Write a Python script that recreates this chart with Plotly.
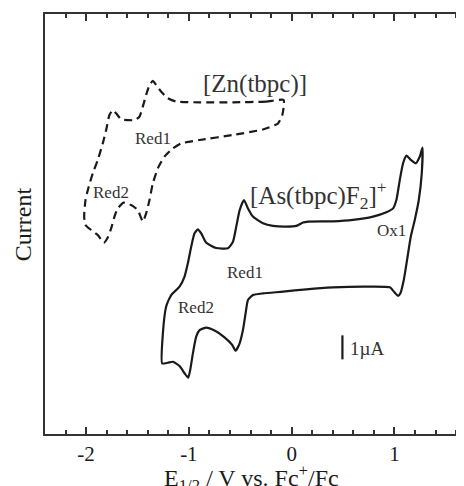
import plotly.graph_objects as go

# [As(tbpc)F2]+ cyclic voltammogram (solid), potential in V vs Fc+/Fc, current in µA (arbitrary offset)
as_potential = [-1.260, -1.253, -1.221, -1.172, -1.091, -1.042, -1.010, -0.977, -0.945, -0.912,
                -0.880, -0.831, -0.734, -0.620, -0.571, -0.539, -0.506, -0.464, -0.425, -0.377,
                -0.279, -0.182, -0.052, 0.045, 0.110, 0.159, 0.403, 0.597, 0.792, 0.922,
                0.987, 1.019, 1.052, 1.084, 1.117, 1.159, 1.208, 1.247, 1.273,
                1.266, 1.237, 1.198, 1.159, 1.123, 1.091, 1.058, 1.036, 1.003, 0.955,
                0.727, 0.403, 0.143, -0.084, -0.279, -0.377, -0.425, -0.448, -0.474, -0.506,
                -0.545, -0.578, -0.653, -0.750, -0.831, -0.896, -0.929, -0.961, -0.987, -1.006,
                -1.042, -1.091, -1.156, -1.205, -1.260]
as_current = [2.94, 4.19, 5.31, 5.79, 6.14, 6.56, 7.11, 7.81, 8.36, 8.53,
              8.36, 7.97, 7.75, 7.74, 8.01, 8.64, 9.33, 9.75, 9.40, 9.06,
              8.78, 8.67, 8.64, 8.67, 8.81, 8.85, 8.86, 8.92, 9.06, 9.24,
              9.40, 9.75, 10.58, 11.28, 11.60, 11.42, 11.28, 11.56, 11.93,
              10.86, 9.75, 8.92, 8.22, 7.25, 6.42, 5.86, 5.75, 5.89, 6.11,
              6.14, 6.11, 6.03, 5.93, 5.86, 5.79, 5.58, 5.03, 4.33, 3.78,
              3.47, 3.71, 4.03, 4.31, 4.43, 4.33, 4.06, 3.36, 2.67, 2.35,
              2.53, 2.83, 3.01, 2.97, 2.94]

# [Zn(tbpc)] cyclic voltammogram (dashed)
zn_potential = [-0.078, -0.247, -0.571, -0.896, -1.123, -1.205, -1.269, -1.318, -1.351, -1.383,
                -1.416, -1.448, -1.481, -1.529, -1.594, -1.659, -1.708, -1.740, -1.773, -1.805,
                -1.838, -1.886, -1.935, -1.974, -2.006, -2.019, -2.006,
                -1.951, -1.886, -1.828, -1.789, -1.756, -1.724, -1.692, -1.636, -1.562, -1.497,
                -1.448, -1.416, -1.383, -1.351, -1.302, -1.237, -1.156, -1.075, -0.896, -0.571,
                -0.279, -0.133, -0.091, -0.078]
zn_current = [13.92, 13.85, 13.82, 13.82, 13.85, 13.99, 14.26, 14.54, 14.71, 14.54,
              14.13, 13.64, 13.22, 13.08, 13.08, 13.11, 13.36, 13.50, 13.29, 12.67,
              12.11, 11.42, 10.86, 10.31, 9.75, 9.06, 8.71,
              8.50, 8.29, 7.97, 8.19, 8.57, 9.06, 9.40, 9.64, 9.54, 9.33,
              8.85, 9.19, 9.75, 10.44, 11.07, 11.56, 11.90, 12.11, 12.25, 12.46,
              12.69, 12.94, 13.29, 13.92]

# 1 µA scale bar
scale_bar_potential = [0.494, 0.494]
scale_bar_current = [3.11, 4.11]

tick_values = [-2, -1, 0, 1]
tick_labels = ["-2", "-1", "0", "1"]
minor_tick_values = [-2.2, -1.8, -1.6, -1.4, -1.2, -0.8, -0.6, -0.4, -0.2,
                     0.2, 0.4, 0.6, 0.8, 1.2, 1.4, 1.6]

label_texts = ["[Zn(tbpc)]", "[As(tbpc)F<sub>2</sub>]<sup>+</sup>", "Red1", "Red2",
               "Red1", "Red2", "Ox1", "1µA"]
label_potential = [-0.36, 0.26, -1.35, -1.756, -0.458, -0.935, 0.971, 0.735]
label_current = [14.6, 9.95, 12.3, 10.06, 6.72, 5.28, 8.5, 3.57]
label_sizes = [25, 25, 17, 17, 17, 17, 17, 19]

FONT = "Liberation Serif, Times New Roman, serif"
INK = "#1a1a1a"
AX = "#333"
X_RANGE = [-2.4, 1.677]

fig = go.Figure()
fig.add_trace(go.Scatter(x=zn_potential, y=zn_current, mode="lines",
                         line=dict(color=INK, width=2.2, dash="8px,5px", shape="spline", smoothing=0.5),
                         showlegend=False, hoverinfo="skip"))
fig.add_trace(go.Scatter(x=as_potential, y=as_current, mode="lines",
                         line=dict(color=INK, width=2.2, shape="spline", smoothing=0.5),
                         showlegend=False, hoverinfo="skip"))
# scale bar drawn on the (identical) top axis so that axis is rendered with its ticks
fig.add_trace(go.Scatter(x=scale_bar_potential, y=scale_bar_current, mode="lines",
                         xaxis="x2", line=dict(color=INK, width=2.2),
                         showlegend=False, hoverinfo="skip"))

for t, x, y, s in zip(label_texts, label_potential, label_current, label_sizes):
    fig.add_annotation(x=x, y=y, text=t, showarrow=False, xanchor="center", yanchor="middle",
                       font=dict(family=FONT, size=s, color="#333"))

fig.add_annotation(x=-0.39, y=-0.105, xref="x", yref="paper",
                   text="E<sub>1/2</sub> / V vs. Fc<sup>+</sup>/Fc", showarrow=False,
                   font=dict(family=FONT, size=24, color=INK), xanchor="center", yanchor="middle")
fig.add_annotation(x=-0.052, y=0.5, xref="paper", yref="paper", text="Current",
                   textangle=-90, showarrow=False, xanchor="center", yanchor="middle",
                   font=dict(family=FONT, size=24, color=INK))

tick_style = dict(showline=True, linecolor=AX, linewidth=1.6, ticks="inside", ticklen=7,
                  tickwidth=1.8, tickcolor=AX, tickmode="array", tickvals=tick_values,
                  showgrid=False, zeroline=False,
                  minor=dict(tickmode="array", tickvals=minor_tick_values, ticks="inside",
                             ticklen=4, tickwidth=1.5, tickcolor=AX, showgrid=False))

fig.update_layout(
    width=464, height=486, margin=dict(l=37, r=8, t=6, b=60),
    plot_bgcolor="white", paper_bgcolor="white",
    xaxis=dict(range=X_RANGE, ticktext=tick_labels,
               tickfont=dict(family=FONT, size=21, color=INK), **tick_style),
    xaxis2=dict(range=X_RANGE, overlaying="x", side="top", anchor="y",
                showticklabels=False, **tick_style),
    yaxis=dict(range=[0, 17.5], showline=True, linecolor=AX, linewidth=1.6,
               ticks="", showticklabels=False, showgrid=False, zeroline=False),
)

fig.write_html("out.html")
